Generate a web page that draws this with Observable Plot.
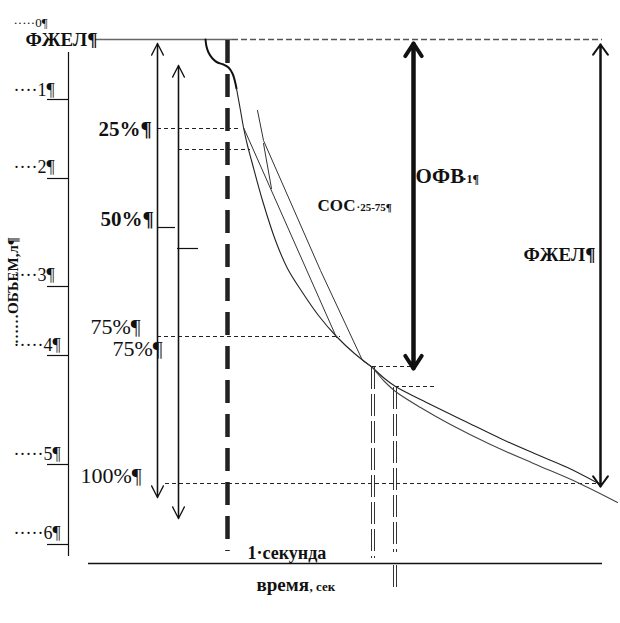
<!DOCTYPE html>
<html><head><meta charset="utf-8">
<script src="https://cdn.jsdelivr.net/npm/d3@7"></script>
<script src="https://cdn.jsdelivr.net/npm/@observablehq/plot@0.6"></script>
<style>body{margin:0;background:#fff;}</style>
</head><body><div id="chart"></div>
<script>
// Diagram coordinates: t = horizontal (time), v = vertical (volume, downward)
const tickLabels = ["·····0¶", "····1¶", "····2¶", "····3¶", "·····4¶", "·····5¶", "·····6¶"];
const tickLabelV = [26, 95, 172, 280, 350, 459, 538];
const tickMarkV = [99, 178, 286, 355, 464, 544];

const curveTop = [[205,39],[206,46],[208,52],[212,58],[217,62],[223,64],[228,67],[232,73],[234.5,81],[236,88]];
const curveMain = [[236,88],[240,110],[243,127],[247,145],[251,160],[262,200],[275,240],[287,268],[300,289],[318,315],[336,336],[354,353],[372,367]];
const secant2575 = [[243,127],[336,337]];
const tangentLine = [[257,110],[263,140],[320,270],[362,360],[372,367]];
const shortLine = [[263,143],[271,188]];
const tailUpper = [[372,367],[384,378],[395,386],[420,399],[467,422],[500,438],[534,453],[567,467],[598,483]];
const tailLower = [[372,367],[384,381],[395,391],[420,407],[450,424],[490,444],[533,463],[577,482],[617,502]];

const dashedLevels = [
  {v:128, t1:157, t2:240}, {v:149, t1:178, t2:250}, {v:336, t1:157, t2:340},
  {v:483, t1:165, t2:598}, {v:366, t1:372, t2:411}, {v:386, t1:395, t2:436}
];
const halfTicks = [{v:227, t1:157, t2:175}, {v:248, t1:177, t2:198}];
const thinArrows = [{t:157, v1:43, v2:497}, {t:178, v1:65, v2:518}];
const ofvArrow = [{t:413, v1:43, v2:368}];
const fvcArrow = [{t:600, v1:44, v2:486}];
const secLines = [{t:371, v1:367, v2:558}, {t:374, v1:367, v2:558}, {t:393, v1:387, v2:552}, {t:396, v1:387, v2:552}];
const secLinesBelow = [{t:393, v1:565, v2:587}, {t:396, v1:565, v2:587}];

const regularTexts = [
  ...tickLabels.map((s, i) => ({text:s, t:13, v:tickLabelV[i], size: i === 0 ? 13 : 18})),
  {text:"75%¶", t:90, v:333, size:22}, {text:"75%¶", t:112, v:355, size:22}, {text:"100%¶", t:80, v:482, size:22}
];
const boldTexts = [
  {text:"ФЖЕЛ¶", t:25, v:45, size:19},
  {text:"25%¶", t:98, v:135, size:21}, {text:"50%¶", t:100, v:225, size:21},
  {text:"СОС", t:317, v:210, size:17}, {text:"·25-75¶", t:356, v:210, size:11},
  {text:"ОФВ", t:415, v:182, size:21}, {text:"·1¶", t:462, v:182, size:12},
  {text:"ФЖЕЛ¶", t:523, v:260, size:19},
  {text:"1·секунда", t:247, v:558, size:18},
  {text:"время", t:256, v:590, size:19}, {text:", сек", t:309, v:590, size:13}
];
const axisTitle = [{text:"……ОБЪЕМ,л¶", t:17, v:290}];

const chart = Plot.plot({
  width: 620, height: 623, margin: 0,
  x: {domain:[0,620], range:[0,620], axis:null},
  y: {domain:[0,623], range:[0,623], axis:null},
  style: {fontFamily: "'Liberation Serif', 'Times New Roman', serif", background: "white", overflow: "visible"},
  marks: [
    Plot.ruleY([39], {x1:95, x2:232, stroke:"#666", strokeWidth:1.5}),
    Plot.ruleY([39], {x1:232, x2:602, stroke:"#555", strokeWidth:1.5, strokeDasharray:"6,3"}),
    Plot.ruleX([68], {y1:52, y2:556, stroke:"#111", strokeWidth:1.2}),
    Plot.ruleY(tickMarkV, {x1:47, x2:68, stroke:"#111", strokeWidth:1.2}),
    Plot.ruleY([563], {x1:88, x2:602, stroke:"#111", strokeWidth:1.5}),
    Plot.ruleY(dashedLevels, {y:"v", x1:"t1", x2:"t2", stroke:"#222", strokeWidth:1, strokeDasharray:"4,3"}),
    Plot.ruleY(halfTicks, {y:"v", x1:"t1", x2:"t2", stroke:"#111", strokeWidth:1.2}),
    Plot.ruleX([227], {y1:40, y2:551, stroke:"#222", strokeWidth:4.5, strokeDasharray:"23,11"}),
    Plot.ruleX(secLines, {x:"t", y1:"v1", y2:"v2", stroke:"#333", strokeWidth:1, strokeDasharray:"22,5"}),
    Plot.ruleX(secLinesBelow, {x:"t", y1:"v1", y2:"v2", stroke:"#333", strokeWidth:1}),
    Plot.line(curveTop, {curve:"catmull-rom", stroke:"#111", strokeWidth:2}),
    Plot.line(curveMain, {curve:"catmull-rom", stroke:"#222", strokeWidth:1.1}),
    Plot.line(secant2575, {stroke:"#333", strokeWidth:1}),
    Plot.line(tangentLine, {stroke:"#333", strokeWidth:1}),
    Plot.line(shortLine, {stroke:"#333", strokeWidth:1}),
    Plot.line(tailUpper, {curve:"catmull-rom", stroke:"#222", strokeWidth:1.1}),
    Plot.line(tailLower, {curve:"catmull-rom", stroke:"#444", strokeWidth:1.1}),
    Plot.arrow(thinArrows, {x1:"t", x2:"t", y1:"v1", y2:"v2", stroke:"#111", strokeWidth:1.3, headLength:15, headAngle:54}),
    Plot.arrow(thinArrows, {x1:"t", x2:"t", y1:"v2", y2:"v1", stroke:"#111", strokeWidth:1.3, headLength:15, headAngle:54}),
    Plot.arrow(ofvArrow, {x1:"t", x2:"t", y1:"v1", y2:"v2", stroke:"#111", strokeWidth:4, headLength:5.6, headAngle:66}),
    Plot.arrow(ofvArrow, {x1:"t", x2:"t", y1:"v2", y2:"v1", stroke:"#111", strokeWidth:4, headLength:5.6, headAngle:66}),
    Plot.arrow(fvcArrow, {x1:"t", x2:"t", y1:"v1", y2:"v2", stroke:"#111", strokeWidth:2, headLength:9.4, headAngle:72}),
    Plot.arrow(fvcArrow, {x1:"t", x2:"t", y1:"v2", y2:"v1", stroke:"#111", strokeWidth:2, headLength:9.4, headAngle:72}),
    Plot.text(regularTexts, {x:"t", y:"v", text:"text", fontSize:"size", textAnchor:"start", lineAnchor:"bottom", fill:"#111"}),
    Plot.text(boldTexts, {x:"t", y:"v", text:"text", fontSize:"size", textAnchor:"start", lineAnchor:"bottom", fill:"#111", fontWeight:"bold"}),
    Plot.text(axisTitle, {x:"t", y:"v", text:"text", fontSize:15, rotate:-90, textAnchor:"middle", lineAnchor:"bottom", fill:"#111", fontWeight:"bold"})
  ]
});
document.getElementById("chart").appendChild(chart);
</script>
</body></html>
